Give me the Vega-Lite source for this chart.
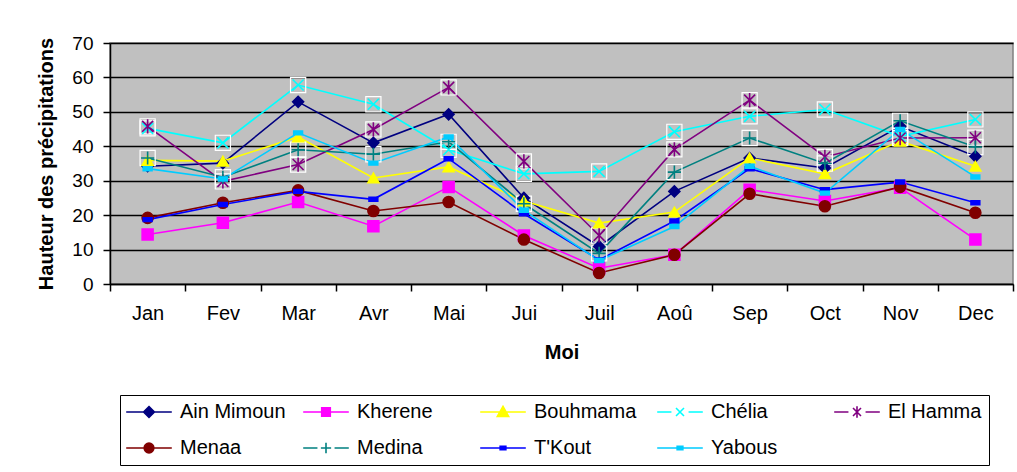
{
  "$schema": "https://vega.github.io/schema/vega-lite/v6.json",
  "width": 903,
  "height": 241,
  "autosize": {"type": "none"},
  "padding": {"left": 110, "top": 43, "right": 4, "bottom": 188},
  "background": "white",
  "config": {
    "font": "Liberation Sans",
    "view": {"fill": "#C0C0C0", "stroke": "#808080", "strokeWidth": 1.5}
  },
  "data": {
    "values": [
      {"Mois": "Jan", "Station": "Ain Mimoun", "Valeur": 34.2},
      {"Mois": "Fev", "Station": "Ain Mimoun", "Valeur": 35.1},
      {"Mois": "Mar", "Station": "Ain Mimoun", "Valeur": 52.9},
      {"Mois": "Avr", "Station": "Ain Mimoun", "Valeur": 41.0},
      {"Mois": "Mai", "Station": "Ain Mimoun", "Valeur": 49.3},
      {"Mois": "Jui", "Station": "Ain Mimoun", "Valeur": 25.0},
      {"Mois": "Juil", "Station": "Ain Mimoun", "Valeur": 10.9},
      {"Mois": "Aoû", "Station": "Ain Mimoun", "Valeur": 26.9},
      {"Mois": "Sep", "Station": "Ain Mimoun", "Valeur": 36.6},
      {"Mois": "Oct", "Station": "Ain Mimoun", "Valeur": 33.7},
      {"Mois": "Nov", "Station": "Ain Mimoun", "Valeur": 45.8},
      {"Mois": "Dec", "Station": "Ain Mimoun", "Valeur": 37.1},
      {"Mois": "Jan", "Station": "Kherene", "Valeur": 14.4},
      {"Mois": "Fev", "Station": "Kherene", "Valeur": 17.8},
      {"Mois": "Mar", "Station": "Kherene", "Valeur": 23.8},
      {"Mois": "Avr", "Station": "Kherene", "Valeur": 16.8},
      {"Mois": "Mai", "Station": "Kherene", "Valeur": 28.2},
      {"Mois": "Jui", "Station": "Kherene", "Valeur": 14.1},
      {"Mois": "Juil", "Station": "Kherene", "Valeur": 4.6},
      {"Mois": "Aoû", "Station": "Kherene", "Valeur": 8.5},
      {"Mois": "Sep", "Station": "Kherene", "Valeur": 27.4},
      {"Mois": "Oct", "Station": "Kherene", "Valeur": 24.1},
      {"Mois": "Nov", "Station": "Kherene", "Valeur": 28.0},
      {"Mois": "Dec", "Station": "Kherene", "Valeur": 12.9},
      {"Mois": "Jan", "Station": "Bouhmama", "Valeur": 35.9},
      {"Mois": "Fev", "Station": "Bouhmama", "Valeur": 35.7},
      {"Mois": "Mar", "Station": "Bouhmama", "Valeur": 42.7},
      {"Mois": "Avr", "Station": "Bouhmama", "Valeur": 30.8},
      {"Mois": "Mai", "Station": "Bouhmama", "Valeur": 34.0},
      {"Mois": "Jui", "Station": "Bouhmama", "Valeur": 24.1},
      {"Mois": "Juil", "Station": "Bouhmama", "Valeur": 17.7},
      {"Mois": "Aoû", "Station": "Bouhmama", "Valeur": 20.9},
      {"Mois": "Sep", "Station": "Bouhmama", "Valeur": 36.6},
      {"Mois": "Oct", "Station": "Bouhmama", "Valeur": 32.0},
      {"Mois": "Nov", "Station": "Bouhmama", "Valeur": 41.5},
      {"Mois": "Dec", "Station": "Bouhmama", "Valeur": 34.2},
      {"Mois": "Jan", "Station": "Chélia", "Valeur": 45.2},
      {"Mois": "Fev", "Station": "Chélia", "Valeur": 41.0},
      {"Mois": "Mar", "Station": "Chélia", "Valeur": 57.8},
      {"Mois": "Avr", "Station": "Chélia", "Valeur": 52.2},
      {"Mois": "Mai", "Station": "Chélia", "Valeur": 39.0},
      {"Mois": "Jui", "Station": "Chélia", "Valeur": 32.0},
      {"Mois": "Juil", "Station": "Chélia", "Valeur": 32.7},
      {"Mois": "Aoû", "Station": "Chélia", "Valeur": 44.2},
      {"Mois": "Sep", "Station": "Chélia", "Valeur": 48.7},
      {"Mois": "Oct", "Station": "Chélia", "Valeur": 50.7},
      {"Mois": "Nov", "Station": "Chélia", "Valeur": 42.9},
      {"Mois": "Dec", "Station": "Chélia", "Valeur": 47.8},
      {"Mois": "Jan", "Station": "El Hamma", "Valeur": 45.8},
      {"Mois": "Fev", "Station": "El Hamma", "Valeur": 29.8},
      {"Mois": "Mar", "Station": "El Hamma", "Valeur": 34.7},
      {"Mois": "Avr", "Station": "El Hamma", "Valeur": 44.9},
      {"Mois": "Mai", "Station": "El Hamma", "Valeur": 57.1},
      {"Mois": "Jui", "Station": "El Hamma", "Valeur": 35.6},
      {"Mois": "Juil", "Station": "El Hamma", "Valeur": 14.1},
      {"Mois": "Aoû", "Station": "El Hamma", "Valeur": 39.1},
      {"Mois": "Sep", "Station": "El Hamma", "Valeur": 53.4},
      {"Mois": "Oct", "Station": "El Hamma", "Valeur": 36.9},
      {"Mois": "Nov", "Station": "El Hamma", "Valeur": 42.4},
      {"Mois": "Dec", "Station": "El Hamma", "Valeur": 42.5},
      {"Mois": "Jan", "Station": "Menaa", "Valeur": 19.2},
      {"Mois": "Fev", "Station": "Menaa", "Valeur": 23.6},
      {"Mois": "Mar", "Station": "Menaa", "Valeur": 27.2},
      {"Mois": "Avr", "Station": "Menaa", "Valeur": 21.2},
      {"Mois": "Mai", "Station": "Menaa", "Valeur": 23.8},
      {"Mois": "Jui", "Station": "Menaa", "Valeur": 12.9},
      {"Mois": "Juil", "Station": "Menaa", "Valeur": 3.2},
      {"Mois": "Aoû", "Station": "Menaa", "Valeur": 8.5},
      {"Mois": "Sep", "Station": "Menaa", "Valeur": 26.2},
      {"Mois": "Oct", "Station": "Menaa", "Valeur": 22.6},
      {"Mois": "Nov", "Station": "Menaa", "Valeur": 28.2},
      {"Mois": "Dec", "Station": "Menaa", "Valeur": 20.7},
      {"Mois": "Jan", "Station": "Medina", "Valeur": 36.6},
      {"Mois": "Fev", "Station": "Medina", "Valeur": 31.0},
      {"Mois": "Mar", "Station": "Medina", "Valeur": 39.0},
      {"Mois": "Avr", "Station": "Medina", "Valeur": 37.7},
      {"Mois": "Mai", "Station": "Medina", "Valeur": 41.3},
      {"Mois": "Jui", "Station": "Medina", "Valeur": 23.3},
      {"Mois": "Juil", "Station": "Medina", "Valeur": 8.9},
      {"Mois": "Aoû", "Station": "Medina", "Valeur": 32.5},
      {"Mois": "Sep", "Station": "Medina", "Valeur": 42.4},
      {"Mois": "Oct", "Station": "Medina", "Valeur": 35.0},
      {"Mois": "Nov", "Station": "Medina", "Valeur": 47.4},
      {"Mois": "Dec", "Station": "Medina", "Valeur": 39.8},
      {"Mois": "Jan", "Station": "T'Kout", "Valeur": 18.7},
      {"Mois": "Fev", "Station": "T'Kout", "Valeur": 23.1},
      {"Mois": "Mar", "Station": "T'Kout", "Valeur": 26.9},
      {"Mois": "Avr", "Station": "T'Kout", "Valeur": 24.6},
      {"Mois": "Mai", "Station": "T'Kout", "Valeur": 36.4},
      {"Mois": "Jui", "Station": "T'Kout", "Valeur": 20.4},
      {"Mois": "Juil", "Station": "T'Kout", "Valeur": 7.0},
      {"Mois": "Aoû", "Station": "T'Kout", "Valeur": 18.3},
      {"Mois": "Sep", "Station": "T'Kout", "Valeur": 33.5},
      {"Mois": "Oct", "Station": "T'Kout", "Valeur": 27.4},
      {"Mois": "Nov", "Station": "T'Kout", "Valeur": 29.6},
      {"Mois": "Dec", "Station": "T'Kout", "Valeur": 23.6},
      {"Mois": "Jan", "Station": "Yabous", "Valeur": 33.5},
      {"Mois": "Fev", "Station": "Yabous", "Valeur": 30.5},
      {"Mois": "Mar", "Station": "Yabous", "Valeur": 43.9},
      {"Mois": "Avr", "Station": "Yabous", "Valeur": 35.1},
      {"Mois": "Mai", "Station": "Yabous", "Valeur": 42.7},
      {"Mois": "Jui", "Station": "Yabous", "Valeur": 21.4},
      {"Mois": "Juil", "Station": "Yabous", "Valeur": 6.8},
      {"Mois": "Aoû", "Station": "Yabous", "Valeur": 16.7},
      {"Mois": "Sep", "Station": "Yabous", "Valeur": 34.2},
      {"Mois": "Oct", "Station": "Yabous", "Valeur": 26.4},
      {"Mois": "Nov", "Station": "Yabous", "Valeur": 44.9},
      {"Mois": "Dec", "Station": "Yabous", "Valeur": 31.1}
    ]
  },
  "encoding": {
    "x": {
      "field": "Mois",
      "type": "ordinal",
      "sort": ["Jan", "Fev", "Mar", "Avr", "Mai", "Jui", "Juil", "Aoû", "Sep", "Oct", "Nov", "Dec"],
      "scale": {"type": "band", "paddingInner": 0, "paddingOuter": 0},
      "axis": {
        "title": "Moi",
        "tickBand": "extent",
        "labelAngle": 0,
        "labelFontSize": 20,
        "labelColor": "black",
        "labelPadding": 12,
        "titleFontSize": 20,
        "titleFontWeight": "bold",
        "titleColor": "black",
        "titlePadding": 19,
        "domainColor": "black",
        "domainWidth": 1.5,
        "tickColor": "black",
        "tickWidth": 1.5,
        "tickSize": 7,
        "grid": false
      }
    },
    "y": {
      "field": "Valeur",
      "type": "quantitative",
      "scale": {"domain": [0, 70]},
      "axis": {
        "title": "Hauteur des précipitations",
        "values": [0, 10, 20, 30, 40, 50, 60, 70],
        "grid": true,
        "gridColor": "black",
        "gridWidth": 1.5,
        "labelFontSize": 19,
        "labelColor": "black",
        "labelPadding": 10,
        "titleFontSize": 20,
        "titleFontWeight": "bold",
        "titleColor": "black",
        "titlePadding": 15,
        "domainColor": "black",
        "domainWidth": 1.5,
        "tickColor": "black",
        "tickWidth": 1.5,
        "tickSize": 7
      }
    }
  },
  "resolve": {
    "scale": {"fill": "independent", "stroke": "independent", "shape": "independent"},
    "legend": {"fill": "independent", "stroke": "independent", "shape": "independent"}
  },
  "layer": [
    {
      "mark": {"type": "line", "strokeWidth": 1.6},
      "encoding": {
        "stroke": {
          "field": "Station",
          "type": "nominal",
          "legend": null,
          "scale": {
            "domain": ["Ain Mimoun", "Kherene", "Bouhmama", "Chélia", "El Hamma", "Menaa", "Medina", "T'Kout", "Yabous"],
            "range": ["#000080", "#FF00FF", "#FFFF00", "#00FFFF", "#800080", "#800000", "#008080", "#0000FF", "#00CCFF"]
          }
        }
      }
    },
    {
      "transform": [{"filter": {"field": "Station", "oneOf": ["Chélia", "El Hamma", "Medina"]}}],
      "mark": {"type": "point", "shape": "square", "size": 230, "filled": false, "stroke": "white", "strokeWidth": 1.2, "opacity": 1}
    },
    {
      "mark": {"type": "point", "filled": true, "size": 120, "strokeWidth": 1.6, "opacity": 1},
      "encoding": {
        "fill": {
          "field": "Station",
          "type": "nominal",
          "legend": null,
          "scale": {
            "domain": ["Ain Mimoun", "Kherene", "Bouhmama", "Chélia", "El Hamma", "Menaa", "Medina", "T'Kout", "Yabous"],
            "range": ["#000080", "#FF00FF", "#FFFF00", "#00FFFF", "#800080", "#800000", "#008080", "#0000FF", "#00CCFF"]
          }
        },
        "stroke": {
          "field": "Station",
          "type": "nominal",
          "legend": null,
          "scale": {
            "domain": ["Ain Mimoun", "Kherene", "Bouhmama", "Chélia", "El Hamma", "Menaa", "Medina", "T'Kout", "Yabous"],
            "range": ["#000080", "#FF00FF", "#FFFF00", "#00FFFF", "#800080", "#800000", "#008080", "#0000FF", "#00CCFF"]
          }
        },
        "shape": {
          "field": "Station",
          "type": "nominal",
          "legend": null,
          "scale": {
            "domain": ["Ain Mimoun", "Kherene", "Bouhmama", "Chélia", "El Hamma", "Menaa", "Medina", "T'Kout", "Yabous"],
            "range": ["diamond", "square", "triangle-up", "M-1,-1L1,1M-1,1L1,-1", "M-1,-1L1,1M-1,1L1,-1M0,-1.3L0,1.3", "circle", "M-1.2,0L1.2,0M0,-1.2L0,1.2", "M-0.8,-0.35L0.8,-0.35L0.8,0.35L-0.8,0.35Z", "M-0.8,-0.35L0.8,-0.35L0.8,0.35L-0.8,0.35Z"]
          }
        }
      }
    },
    {
      "transform": [{"filter": "datum.Valeur < 0"}],
      "mark": {"type": "point", "filled": true, "size": 130, "strokeWidth": 1.6, "opacity": 1},
      "encoding": {
        "fill": {
          "field": "Station",
          "type": "nominal",
          "title": null,
          "scale": {
            "domain": ["Ain Mimoun", "Kherene", "Bouhmama", "Chélia", "El Hamma", "Menaa", "Medina", "T'Kout", "Yabous"],
            "range": ["#000080", "#FF00FF", "#FFFF00", "#00FFFF", "#800080", "#800000", "#008080", "#0000FF", "#00CCFF"]
          },
          "legend": {
            "orient": "none",
            "legendX": 10,
            "legendY": 352,
            "direction": "horizontal",
            "columns": 5,
            "gridAlign": "all",
            "fillColor": "white",
            "strokeColor": "black",
            "padding": 7,
            "labelFontSize": 20,
            "labelColor": "black",
            "labelLimit": 300,
            "rowPadding": 16,
            "columnPadding": 13,
            "symbolSize": 130,
            "symbolStrokeWidth": 1.6,
            "symbolOffset": 12,
            "labelOffset": 21
          }
        },
        "stroke": {
          "field": "Station",
          "type": "nominal",
          "title": null,
          "scale": {
            "domain": ["Ain Mimoun", "Kherene", "Bouhmama", "Chélia", "El Hamma", "Menaa", "Medina", "T'Kout", "Yabous"],
            "range": ["#000080", "#FF00FF", "#FFFF00", "#00FFFF", "#800080", "#800000", "#008080", "#0000FF", "#00CCFF"]
          }
        },
        "shape": {
          "field": "Station",
          "type": "nominal",
          "title": null,
          "scale": {
            "domain": ["Ain Mimoun", "Kherene", "Bouhmama", "Chélia", "El Hamma", "Menaa", "Medina", "T'Kout", "Yabous"],
            "range": [
              "M-4,0L4,0M0,-0.95L0.95,0L0,0.95L-0.95,0Z",
              "M-4,0L4,0M-0.75,-0.75L0.75,-0.75L0.75,0.75L-0.75,0.75Z",
              "M-4,0L4,0M0,-1L1,0.8L-1,0.8Z",
              "M-4,0L-1.5,0M1.5,0L4,0M-0.7,-0.7L0.7,0.7M-0.7,0.7L0.7,-0.7",
              "M-4,0L-1.5,0M1.5,0L4,0M-0.7,-0.7L0.7,0.7M-0.7,0.7L0.7,-0.7M0,-1L0,1",
              "M-4,0L4,0M-0.85,0A0.85,0.85 0 1,0 0.85,0A0.85,0.85 0 1,0 -0.85,0Z",
              "M-4,0L-1.5,0M1.5,0L4,0M-0.9,0L0.9,0M0,-0.9L0,0.9",
              "M-4,0L4,0M-0.5,-0.3L0.5,-0.3L0.5,0.3L-0.5,0.3Z",
              "M-4,0L4,0M-0.5,-0.3L0.5,-0.3L0.5,0.3L-0.5,0.3Z"
            ]
          }
        }
      }
    }
  ]
}
